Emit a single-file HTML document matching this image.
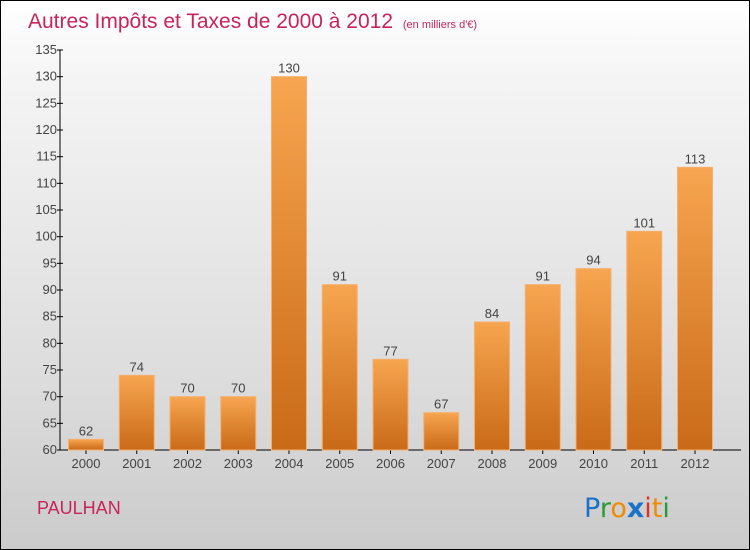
<!DOCTYPE html>
<html><head><meta charset="utf-8"><style>
body{margin:0}
#c{position:relative;width:748px;height:548px;border:1px solid #000;background:linear-gradient(#ffffff,#f4f4f4 15%,#dcdcdc 70%,#cbcbcb);font-family:"Liberation Sans",sans-serif;overflow:hidden}
</style></head><body>
<div id="c">
<svg width="748" height="548">
<defs><linearGradient id="g" x1="0" y1="0" x2="0" y2="1"><stop offset="0" stop-color="#f7a550"/><stop offset="1" stop-color="#c96a18"/></linearGradient></defs>
<text x="27" y="27" font-size="21" fill="#c8245a">Autres Impôts et Taxes de 2000 à 2012 <tspan font-size="11" dx="4">(en milliers d'€)</tspan></text>
<g id="axes"></g><g id="bars"></g>
<text x="36" y="513" font-size="18" fill="#c8245a">PAULHAN</text>
<g font-size="27" font-family="'DejaVu Sans',sans-serif">
<text x="583" y="516"><tspan fill="#1a73c8">P</tspan><tspan fill="#2a9a3a">r</tspan><tspan fill="#f08a00">o</tspan><tspan fill="#1a73c8" font-weight="bold">x</tspan><tspan fill="#e03020">i</tspan><tspan fill="#f08a00">t</tspan><tspan fill="#2a9a3a">i</tspan></text></g>
</svg></div>
<script>
const years=["2000","2001","2002","2003","2004","2005","2006","2007","2008","2009","2010","2011","2012"];
const values=[62,74,70,70,130,91,77,67,84,91,94,101,113];
const ticks=[60,65,70,75,80,85,90,95,100,105,110,115,120,125,130,135];
const NS="http://www.w3.org/2000/svg";
const y=v=>449-(v-60)*400/75, x=i=>85+i*50.75;
function mk(t,a,p){const e=document.createElementNS(NS,t);for(const k in a)e.setAttribute(k,a[k]);p.appendChild(e);return e;}
const ax=document.getElementById('axes'),bg=document.getElementById('bars');
let l=mk('line',{x1:59,y1:y(135),x2:59,y2:y(60),stroke:'#000'},ax);


l=mk('line',{x1:59,y1:y(60),x2:740,y2:y(60),stroke:'#000'},ax);


ticks.forEach(t=>{mk('line',{x1:56,x2:62,y1:y(t),y2:y(t),stroke:'#000'},ax);
const e=mk('text',{x:56,y:y(t)+4,'font-size':13,'text-anchor':'end',fill:'#444'},ax);e.textContent=t;

});
years.forEach((yr,i)=>{const v=values[i];
const r=mk('rect',{x:x(i)-17.5,y:y(v),width:35,height:y(60)-y(v),fill:'url(#g)',stroke:'#f5b070','stroke-width':1},bg);


const t=mk('text',{x:x(i),y:y(v)-4,'font-size':13,'text-anchor':'middle',fill:'#444'},bg);t.textContent=v;


mk('line',{x1:x(i),x2:x(i),y1:y(60),y2:y(60)+4,stroke:'#000'},ax);
const xl=mk('text',{x:x(i),y:467,'font-size':13,'text-anchor':'middle',fill:'#444'},ax);xl.textContent=yr;

});
</script></body></html>
